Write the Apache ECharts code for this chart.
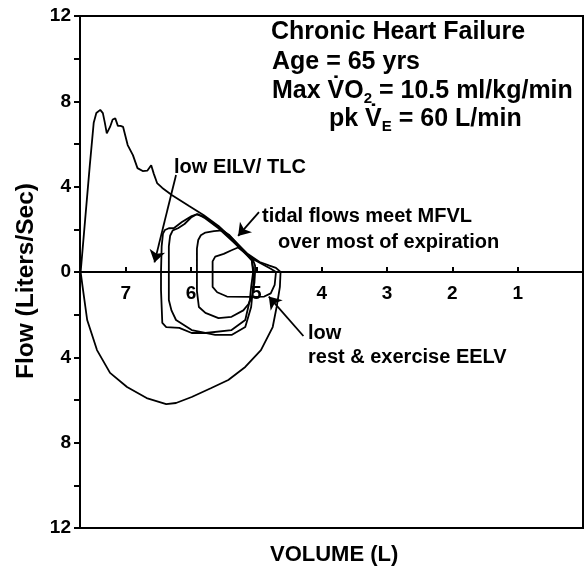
<!DOCTYPE html>
<html>
<head>
<meta charset="utf-8">
<script src="https://cdn.jsdelivr.net/npm/echarts@6/dist/echarts.min.js"></script>
<style>
	html, body { margin: 0; padding: 0; background: #fff; }
	#chart { width: 586px; height: 571px; }
</style>
</head>
<body>
<div id="chart"></div>
<script>
// volume (L), flow (L/s); inspiration is negative
let mfvlExp = [[7.69,0],[7.62,2.5],[7.55,5.0],[7.49,7.0],[7.45,7.45],[7.39,7.6],[7.35,7.45],[7.32,7.0],[7.29,6.5],[7.24,6.8],[7.20,7.15],[7.16,7.2],[7.12,6.85],[7.08,6.85],[7.04,6.8],[6.97,5.95],[6.89,5.48],[6.82,4.87],[6.74,4.73],[6.67,4.75],[6.61,5.0],[6.57,4.6],[6.52,4.17],[6.44,3.94],[6.29,3.6],[6.03,3.09],[5.81,2.67],[5.58,2.16],[5.35,1.5],[5.13,0.84],[4.95,0.47],[4.80,0.3],[4.70,0.19],[4.63,0]];
let mfvlInsp = [[4.63,0],[4.64,-0.7],[4.69,-1.64],[4.75,-2.58],[4.93,-3.66],[5.17,-4.45],[5.43,-5.06],[5.69,-5.44],[5.99,-5.86],[6.23,-6.14],[6.38,-6.19],[6.68,-5.91],[6.98,-5.39],[7.24,-4.73],[7.44,-3.66],[7.59,-2.25],[7.66,-0.7],[7.69,0]];
let restLoop = [[5.67,0],[5.67,0.5],[5.63,0.72],[5.5,0.85],[5.38,1.02],[5.28,1.15],[5.15,0.85],[5.02,0.55],[4.9,0.35],[4.78,0.15],[4.7,0],[4.72,-0.6],[4.78,-1.0],[4.88,-1.15],[5.1,-1.17],[5.45,-1.15],[5.6,-0.95],[5.67,-0.7],[5.67,0]];
let midLoop = [[5.91,0],[5.91,1.1],[5.89,1.5],[5.85,1.72],[5.78,1.85],[5.65,1.92],[5.52,1.95],[5.42,1.75],[5.3,1.35],[5.15,0.85],[5.05,0.55],[5.02,0.3],[5.02,0],[5.03,-0.5],[5.06,-1.1],[5.12,-1.5],[5.2,-1.8],[5.38,-2.1],[5.58,-2.16],[5.78,-1.92],[5.88,-1.64],[5.91,-0.9],[5.91,0]];
let bigLoop1 = [[6.46,0],[6.45,1.2],[6.43,1.8],[6.40,1.97],[6.34,2.05],[6.26,2.06],[6.14,2.34],[5.99,2.62],[5.9,2.72],[5.8,2.55],[5.58,2.05],[5.35,1.4],[5.15,0.8],[5.07,0.55],[5.05,0],[5.08,-0.7],[5.10,-1.31],[5.17,-2.25],[5.38,-2.72],[5.78,-2.86],[5.99,-2.86],[6.18,-2.62],[6.38,-2.58],[6.44,-2.39],[6.46,-0.84],[6.46,0]];
let bigLoop2 = [[6.34,0],[6.34,1.2],[6.32,1.7],[6.28,1.95],[6.2,2.05],[6.1,2.25],[6.0,2.55],[5.92,2.7],[5.8,2.6],[5.58,2.1],[5.35,1.45],[5.15,0.85],[5.07,0.55],[5.04,0],[5.05,-0.7],[5.08,-1.64],[5.17,-2.58],[5.38,-2.95],[5.63,-2.95],[5.99,-2.72],[6.23,-2.25],[6.30,-1.8],[6.34,-1.31],[6.34,0]];

// annotation arrows [from, to]
let arrows = [
	[[6.23, 4.55], [6.56, 0.45]],
	[[4.96, 2.81], [5.28, 1.69]],
	[[4.28, -3.0], [4.81, -1.15]]
];

let fam = "'Liberation Sans', Arial, sans-serif";

let chart = echarts.init(document.getElementById("chart"));

function lineSeries(data) {
	return {
		type: "line",
		data: data,
		symbol: "none",
		lineStyle: { color: "#000", width: 1.8 },
		silent: true
	};
}

let series = [mfvlExp, mfvlInsp, restLoop, midLoop, bigLoop1, bigLoop2].map(lineSeries);
series[0].markLine = {
	silent: true,
	symbol: ["none", "arrow"],
	symbolSize: 12,
	label: { show: false },
	lineStyle: { type: "solid", color: "#000", width: 1.8 },
	itemStyle: { color: "#000" },
	data: arrows.map(function (a) {
		return [{ coord: a[0] }, { coord: a[1] }];
	})
};

let big = { fontSize: 25, fontWeight: "bold", fontFamily: fam, lineHeight: 30, color: "#000" };
let sub = { fontSize: 15, fontWeight: "bold", fontFamily: fam, lineHeight: 18, verticalAlign: "bottom", color: "#000" };

// text in pixels, y is the middle of the line
function note(text, x, y, size) {
	return {
		type: "text",
		x: x,
		y: y,
		style: { text: text, font: "bold " + size + "px " + fam, fill: "#000", verticalAlign: "middle" }
	};
}

let option = {
	animation: false,
	grid: { left: 80, right: 1, top: 16, bottom: 43, show: true, borderColor: "#000", borderWidth: 2 },
	xAxis: {
		type: "value",
		min: 0,
		max: 7.7,
		interval: 1,
		inverse: true,
		axisLine: { onZero: true, lineStyle: { color: "#000", width: 2 } },
		axisTick: { inside: true, length: 5, lineStyle: { color: "#000", width: 2 } },
		axisLabel: {
			margin: -244,
			color: "#000",
			fontSize: 19,
			fontWeight: "bold",
			fontFamily: fam,
			showMaxLabel: false,
			formatter: function (v) { return v === 0 ? "" : v; }
		},
		splitLine: { show: false }
	},
	yAxis: {
		type: "value",
		min: -12,
		max: 12,
		interval: 4,
		axisLine: { show: true, onZero: false, lineStyle: { color: "#000", width: 2 } },
		axisTick: { length: 6, lineStyle: { color: "#000", width: 2 } },
		minorTick: { show: true, splitNumber: 2, length: 6, lineStyle: { color: "#000", width: 2 } },
		axisLabel: {
			margin: 9,
			color: "#000",
			fontSize: 19,
			fontWeight: "bold",
			fontFamily: fam,
			formatter: function (v) { return Math.abs(v); }
		},
		splitLine: { show: false },
		name: "Flow (Liters/Sec)",
		nameLocation: "middle",
		nameRotate: 90,
		nameGap: 41,
		nameTextStyle: { color: "#000", fontSize: 24.5, fontWeight: "bold", fontFamily: fam, padding: [0, 18, 0, 0] }
	},
	graphic: [
		note("Chronic Heart Failure", 271, 32, 25),
		note("Age = 65 yrs", 272, 62, 25),
		{
			type: "text",
			x: 272,
			y: 91,
			style: { text: "{a|Max V\u0307O}{s|2}{a| = 10.5 ml/kg/min}", rich: { a: big, s: sub }, verticalAlign: "middle" }
		},
		{
			type: "text",
			x: 329,
			y: 119,
			style: { text: "{a|pk V\u0307}{s|E}{a| = 60 L/min}", rich: { a: big, s: sub }, verticalAlign: "middle" }
		},
		note("low EILV/ TLC", 174, 167, 20),
		note("tidal flows meet MFVL", 262, 216, 20),
		note("over most of expiration", 278, 242, 20),
		note("low", 308, 333, 20),
		note("rest & exercise EELV", 308, 357, 20),
		note("VOLUME (L)", 270, 555, 22)
	],
	series: series
};

chart.setOption(option);
</script>
</body>
</html>
